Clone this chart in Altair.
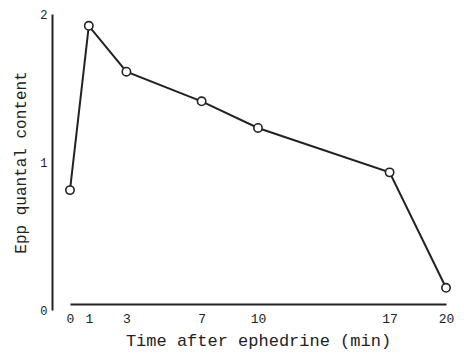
import altair as alt
import pandas as pd

times = [0, 1, 3, 7, 10, 17, 20]
quantal = [0.81, 1.92, 1.61, 1.41, 1.23, 0.93, 0.15]
x_ticks = [0, 1, 3, 7, 10, 17, 20]
y_ticks = [0, 1, 2]

df = pd.DataFrame({"t": times, "q": quantal})

FONT = "Liberation Mono"

x = alt.X("t:Q", scale=alt.Scale(domain=[0, 20], nice=False, zero=False),
          axis=alt.Axis(values=x_ticks, format="d", title="Time after ephedrine (min)", grid=False,
                        ticks=False, offset=-6, labelPadding=8, labelFontSize=13,
                        labelFont=FONT, titleFont=FONT, titleFontSize=17,
                        titleFontWeight="normal", titlePadding=7, domainWidth=2,
                        domainColor="#222", labelColor="#222", titleColor="#222",
                        labelFlush=False, labelOverlap=False))
y = alt.Y("q:Q", scale=alt.Scale(domain=[0, 2], nice=False),
          axis=alt.Axis(values=y_ticks, labelExpr="format(datum.value, '.0f')",
                        title="Epp quantal content", grid=False,
                        ticks=False, offset=18, labelPadding=5, labelFontSize=12,
                        labelFont=FONT, titleFont=FONT, titleFontSize=16,
                        titleFontWeight="normal", titlePadding=11, domainWidth=2,
                        domainColor="#222", labelColor="#222", titleColor="#222",
                        labelFlush=False, labelOverlap=False, labelBound=False))

line = alt.Chart(df).mark_line(color="#222", strokeWidth=2).encode(x=x, y=y)
pts = alt.Chart(df).mark_point(shape="circle", filled=True, fill="white", stroke="#222",
                               strokeWidth=1.6, size=70, opacity=1).encode(x=x, y=y)

chart = (line + pts).properties(
    width=376, height=296,
    autosize=alt.AutoSizeParams(type="none"),
    padding={"left": 62, "top": 6, "right": 10, "bottom": 40},
).configure_view(stroke=None)

chart.save("out.html", embed_options={"renderer": "svg", "actions": False})
